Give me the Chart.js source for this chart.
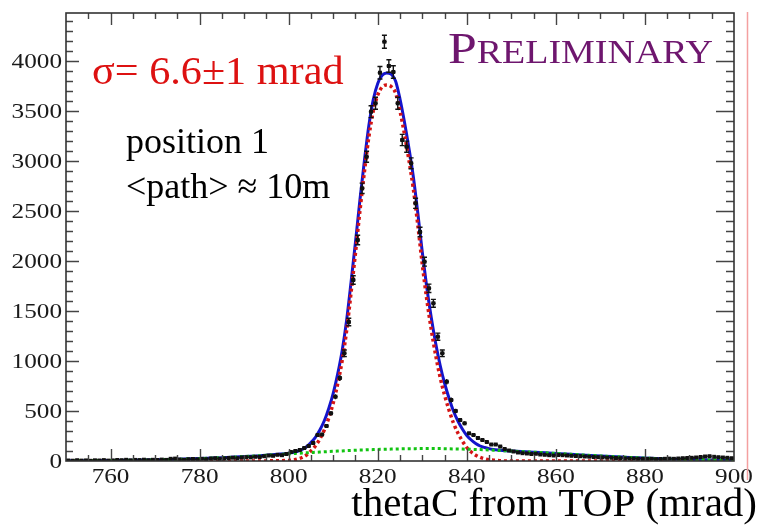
<!DOCTYPE html>
<html>
<head>
<meta charset="utf-8">
<script src="https://cdn.jsdelivr.net/npm/chart.js@4.4.1/dist/chart.umd.min.js"></script>
<style>
  html, body { margin: 0; padding: 0; background: #fff; }
  #chart { display: block; }
</style>
</head>
<body>
<canvas id="chart" width="761" height="526"></canvas>
<script>
// histogram: 1 mrad bins from 750 to 900
const binStart = 750;
const binWidth = 1;
const counts = [
  5, 3, 8, 4, 6, 2, 7, 5, 9, 4,
  6, 10, 8, 12, 7, 11, 9, 13, 8, 12,
  10, 14, 11, 22, 24, 15, 12, 18, 20, 16,
  22, 18, 25, 28, 22, 26, 30, 33, 28, 35,
  38, 36, 42, 40, 48, 55, 52, 62, 58, 70,
  90, 100, 110, 130, 150, 180, 260, 265, 350, 477,
  643, 830, 1077, 1390, 1810, 2210, 2727, 3043, 3493, 3577,
  3883, 4193, 3950, 3890, 3577, 3210, 3143, 2977, 2577, 2290,
  1993, 1727, 1577, 1243, 1077, 793, 610, 500, 410, 377,
  277, 260, 230, 210, 190, 165, 165, 145, 120, 105,
  95, 85, 78, 75, 70, 72, 65, 62, 58, 55,
  60, 58, 55, 52, 50, 48, 45, 43, 40, 38,
  36, 34, 32, 30, 28, 26, 25, 24, 22, 20,
  20, 22, 18, 20, 22, 24, 22, 25, 28, 30,
  32, 35, 40, 45, 48, 42, 38, 35, 32, 28,
];

// fit curves sampled at these x positions
const curveX = [
  750, 755, 760, 765, 770, 775, 780, 785, 790, 795,
  800, 801, 802, 803, 804, 805, 806, 807, 808, 809,
  810, 811, 812, 813, 814, 815, 816, 817, 818, 819,
  820, 821, 822, 823, 824, 825, 826, 827, 828, 829,
  830, 831, 832, 833, 834, 835, 836, 837, 838, 839,
  840, 841, 842, 843, 844, 845, 846, 847, 848, 849,
  850, 855, 860, 865, 870, 875, 880, 885, 890, 895, 900,
];
const fitTotal = [
  2, 3, 5, 8, 12, 17, 24, 33, 44, 58,
  78, 85, 97, 115, 142, 185, 237, 310, 402, 525,
  677, 869, 1101, 1404, 1786, 2188, 2610, 3001, 3353, 3614,
  3776, 3857, 3880, 3868, 3800, 3620, 3390, 3130, 2840, 2480,
  2090, 1740, 1440, 1180, 960, 780, 630, 500, 400, 320,
  255, 210, 175, 150, 135, 124, 116, 110, 105, 102,
  100, 88, 76, 63, 50, 39, 29, 21, 15, 10, 7,
];
const fitSignal = [
  0, 0, 0, 0, 0, 0, 0, 0, 0, 1,
  6, 10, 20, 35, 60, 100, 150, 220, 310, 430,
  580, 770, 1000, 1300, 1680, 2080, 2500, 2890, 3240, 3500,
  3660, 3740, 3760, 3745, 3680, 3500, 3270, 3010, 2720, 2360,
  1970, 1620, 1320, 1060, 840, 660, 510, 380, 280, 200,
  135, 90, 58, 36, 22, 13, 8, 4, 1, 0,
  0, 0, 0, 0, 0, 0, 0, 0, 0, 0, 0,
];
const fitBackground = [
  2, 3, 5, 8, 12, 17, 24, 33, 44, 57,
  72, 75, 77, 80, 82, 85, 87, 90, 92, 95,
  97, 99, 101, 104, 106, 108, 110, 111, 113, 114,
  116, 117, 118, 119, 120, 121, 122, 123, 123, 124,
  124, 124, 124, 124, 124, 123, 122, 121, 120, 119,
  118, 117, 115, 114, 112, 110, 108, 106, 104, 102,
  100, 88, 76, 63, 50, 39, 29, 21, 15, 10, 7,
];

// axis ticks
const xTicks = [760, 780, 800, 820, 840, 860, 880, 900];
const yTicks = [0, 500, 1000, 1500, 2000, 2500, 3000, 3500, 4000];
const xRange = [750, 900];
const yRange = [0, 4480];

const histPoints = counts.map((v, i) => ({ x: binStart + (i + 0.5) * binWidth, y: v }));
const toXY = (ys) => curveX.map((x, i) => ({ x: x, y: ys[i] }));

// serif text, optionally stretched sideways like the original figure
function stretchText(ctx, text, x, y, font, color, sx, align) {
  ctx.save();
  ctx.font = font;
  ctx.fillStyle = color;
  ctx.textAlign = align || "left";
  ctx.textBaseline = "alphabetic";
  ctx.translate(x, y);
  ctx.scale(sx, 1);
  ctx.fillText(text, 0, 0);
  ctx.restore();
}

const errorBars = {
  id: "errorBars",
  afterDatasetsDraw(chart) {
    const { ctx, chartArea: a, scales: { x, y } } = chart;
    ctx.save();
    ctx.beginPath();
    ctx.rect(a.left, a.top, a.right - a.left, a.bottom - a.top);
    ctx.clip();
    ctx.strokeStyle = "#111";
    ctx.lineWidth = 1.4;
    histPoints.forEach((p) => {
      const e = Math.sqrt(p.y);
      const px = x.getPixelForValue(p.x);
      const y1 = y.getPixelForValue(p.y - e);
      const y2 = y.getPixelForValue(p.y + e);
      const py = y.getPixelForValue(p.y);
      ctx.beginPath();
      ctx.moveTo(px, y1);
      ctx.lineTo(px, y2);
      ctx.moveTo(x.getPixelForValue(p.x - binWidth / 2), py);
      ctx.lineTo(x.getPixelForValue(p.x + binWidth / 2), py);
      if (y1 - y2 > 6) {
        ctx.moveTo(px - 2.5, y1);
        ctx.lineTo(px + 2.5, y1);
        ctx.moveTo(px - 2.5, y2);
        ctx.lineTo(px + 2.5, y2);
      }
      ctx.stroke();
    });
    ctx.restore();
  },
};

const frame = {
  id: "frame",
  afterDraw(chart) {
    const { ctx, chartArea: a, scales: { x, y } } = chart;
    ctx.save();

    // ticks pointing inward on all four sides
    ctx.strokeStyle = "#444";
    ctx.lineWidth = 1.4;
    ctx.beginPath();
    for (let v = 755; v < 900; v += 5) {
      const major = xTicks.includes(v);
      const len = major ? 12 : 6;
      const px = Math.round(x.getPixelForValue(v)) + 0.5;
      ctx.moveTo(px, a.bottom);
      ctx.lineTo(px, a.bottom - len);
      ctx.moveTo(px, a.top);
      ctx.lineTo(px, a.top + len);
    }
    for (let v = 100; v < yRange[1]; v += 100) {
      const major = yTicks.includes(v);
      const len = major ? 13 : 7;
      const py = Math.round(y.getPixelForValue(v)) + 0.5;
      ctx.moveTo(a.left, py);
      ctx.lineTo(a.left + len, py);
      ctx.moveTo(a.right, py);
      ctx.lineTo(a.right - (major ? 18 : 8), py);
    }
    ctx.stroke();

    // frame
    ctx.strokeStyle = "#333";
    ctx.lineWidth = 1.6;
    ctx.strokeRect(a.left, a.top, a.right - a.left, a.bottom - a.top);

    // tick labels
    xTicks.forEach((v) => {
      stretchText(ctx, String(v), x.getPixelForValue(v), 483,
        '21px "Liberation Serif"', "#1a1a1a", 1.2, "center");
    });
    yTicks.forEach((v) => {
      stretchText(ctx, String(v), 62, y.getPixelForValue(v) + 7,
        '21px "Liberation Serif"', "#1a1a1a", 1.2, "right");
    });

    // axis title
    stretchText(ctx, "thetaC from TOP (mrad)", 757, 516,
      '41px "Liberation Serif"', "#000", 1, "right");

    // annotations
    stretchText(ctx, "σ= 6.6±1 mrad", 92, 84,
      '41px "Liberation Serif"', "#dd1111", 1.03);
    stretchText(ctx, "position 1", 126, 153,
      '36px "Liberation Serif"', "#000", 1);
    stretchText(ctx, "<path> ≈ 10m", 126, 198,
      '36px "Liberation Serif"', "#000", 1);

    // small caps "Preliminary"
    const sx = 1.15;
    ctx.font = '45px "Liberation Serif"';
    const pw = ctx.measureText("P").width * sx;
    stretchText(ctx, "P", 448, 63, '45px "Liberation Serif"', "#6e166e", sx);
    stretchText(ctx, "RELIMINARY", 448 + pw, 63, '33px "Liberation Serif"', "#6e166e", sx);

    // faint red edge line at the right
    ctx.strokeStyle = "#f4a0a0";
    ctx.lineWidth = 1.5;
    ctx.beginPath();
    ctx.moveTo(747.5, 12);
    ctx.lineTo(747.5, 480);
    ctx.stroke();

    ctx.restore();
  },
};

const chart = document.querySelector("#chart").getContext("2d");

new Chart(chart, {
  type: "scatter",
  data: {
    datasets: [
      {
        label: "data",
        data: histPoints,
        pointStyle: "rect",
        pointRadius: 2.8,
        backgroundColor: "#111",
        borderColor: "#111",
        borderWidth: 0,
        showLine: false,
      },
      {
        label: "background",
        data: toXY(fitBackground),
        showLine: true,
        borderColor: "#12c412",
        borderWidth: 3,
        borderDash: [3, 3],
        pointRadius: 0,
        cubicInterpolationMode: "monotone",
      },
      {
        label: "signal",
        data: toXY(fitSignal),
        showLine: true,
        borderColor: "#d41414",
        borderWidth: 3.5,
        borderDash: [3, 3],
        pointRadius: 0,
        cubicInterpolationMode: "monotone",
      },
      {
        label: "total",
        data: toXY(fitTotal),
        showLine: true,
        borderColor: "#1414cc",
        borderWidth: 3,
        pointRadius: 0,
        cubicInterpolationMode: "monotone",
      },
    ],
  },
  options: {
    responsive: false,
    animation: false,
    layout: { padding: { left: 66, top: 13, right: 27, bottom: 65 } },
    plugins: { legend: { display: false }, tooltip: { enabled: false } },
    scales: {
      x: { type: "linear", min: xRange[0], max: xRange[1], display: false },
      y: { type: "linear", min: yRange[0], max: yRange[1], display: false },
    },
  },
  plugins: [errorBars, frame],
});
</script>
</body>
</html>
